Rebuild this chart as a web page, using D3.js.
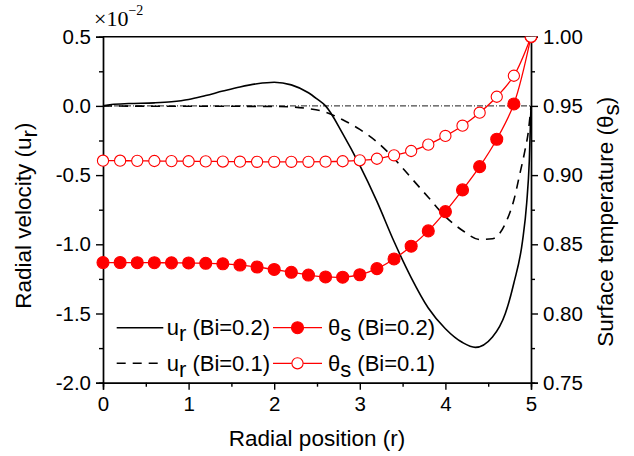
<!DOCTYPE html>
<html>
<head>
<meta charset="utf-8">
<script src="https://cdn.jsdelivr.net/npm/d3@7/dist/d3.min.js"></script>
<style>
  body { margin: 0; background: #fff; }
  svg text { font-family: "Liberation Sans", Arial, sans-serif; fill: #000; }
</style>
</head>
<body>
<svg id="chart" width="634" height="456"></svg>
<script>
// radial positions of the marker series (step 0.2)
const r_markers = [0, 0.2, 0.4, 0.6, 0.8, 1.0, 1.2, 1.4, 1.6, 1.8, 2.0, 2.2, 2.4,
  2.6, 2.8, 3.0, 3.2, 3.4, 3.6, 3.8, 4.0, 4.2, 4.4, 4.6, 4.8, 5.0];
const theta_bi02 = [0.8368, 0.8368, 0.8367, 0.8367, 0.8366, 0.8365, 0.8363, 0.8359, 0.8350,
  0.8336, 0.8318, 0.8298, 0.8278, 0.8264, 0.8262, 0.8280, 0.8324, 0.8394, 0.8486, 0.8597,
  0.8736, 0.8893, 0.9061, 0.9259, 0.9514, 1.0];
const theta_bi01 = [0.9104, 0.9104, 0.9103, 0.9102, 0.9101, 0.9100, 0.9099, 0.9098, 0.9097,
  0.9096, 0.9096, 0.9096, 0.9096, 0.9097, 0.9100, 0.9107, 0.9118, 0.9143, 0.9174, 0.9220,
  0.9283, 0.9357, 0.9451, 0.9566, 0.9718, 1.0];

// radial velocity (x1e-2)
const r_ur02 = [0, 0.1, 0.3, 0.6, 0.8, 1.0, 1.2, 1.4, 1.6, 1.8, 2.0, 2.2, 2.4, 2.5, 2.6, 2.8,
  3.0, 3.2, 3.4, 3.6, 3.8, 4.0, 4.2, 4.35, 4.55, 4.7, 4.8, 4.9, 4.95, 4.98, 5.0];
const ur_bi02 = [0, 0.010, 0.017, 0.022, 0.030, 0.046, 0.075, 0.107, 0.137, 0.160, 0.171,
  0.152, 0.095, 0.05, 0.0, -0.20, -0.43, -0.69, -0.98, -1.24, -1.46, -1.61, -1.71, -1.745,
  -1.67, -1.50, -1.28, -0.98, -0.70, -0.40, 0];
const r_ur01 = [0, 0.5, 1.0, 1.5, 2.0, 2.2, 2.4, 2.6, 2.8, 3.0, 3.2, 3.4, 3.6, 3.8, 4.0, 4.2,
  4.4, 4.55, 4.7, 4.8, 4.87, 4.93, 4.97, 5.0];
const ur_bi01 = [0, -0.002, -0.003, -0.003, -0.004, -0.007, -0.02, -0.045, -0.10, -0.17,
  -0.26, -0.38, -0.52, -0.66, -0.80, -0.90, -0.965, -0.96, -0.85, -0.68, -0.49, -0.32, -0.18, 0];

const x_ticks = [0, 1, 2, 3, 4, 5];
const x_minor = [0.5, 1.5, 2.5, 3.5, 4.5];
const yl_ticks = [0.5, 0.0, -0.5, -1.0, -1.5, -2.0];
const yl_minor = [0.25, -0.25, -0.75, -1.25, -1.75];
const yr_ticks = [0.75, 0.80, 0.85, 0.90, 0.95, 1.00];
const yr_minor = [0.775, 0.825, 0.875, 0.925, 0.975];

const svg = d3.select('#chart');
const plot_left = 103, plot_right = 531, plot_top = 36.7, plot_bottom = 382.7;

const x = d3.scaleLinear().domain([0, 5]).range([plot_left, plot_right]);
const yl = d3.scaleLinear().domain([-2, 0.5]).range([plot_bottom, plot_top]);
const yr = d3.scaleLinear().domain([0.75, 1.0]).range([plot_bottom, plot_top]);

svg.append('rect').attr('width', 634).attr('height', 456).attr('fill', '#fff');

// markers are cut off above the top frame only
svg.append('clipPath').attr('id', 'clip-top')
  .append('rect')
  .attr('x', 0).attr('y', plot_top).attr('width', 634).attr('height', 456 - plot_top);

// axes
function styleAxis(g) {
  g.selectAll('path').attr('stroke', '#000').attr('stroke-width', 1.4);
  g.selectAll('line').attr('stroke', '#000').attr('stroke-width', 1.4);
  g.selectAll('text').attr('font-size', 20.5).attr('font-family', '"Liberation Sans", Arial, sans-serif');
}

svg.append('g').attr('transform', `translate(0,${plot_bottom})`)
  .call(d3.axisBottom(x).tickValues(x_ticks).tickSize(7).tickPadding(7).tickFormat(d3.format('d')))
  .call(styleAxis);
svg.append('g').attr('transform', `translate(0,${plot_bottom})`)
  .call(d3.axisBottom(x).tickValues(x_minor).tickSize(4).tickFormat(''))
  .call(styleAxis);

svg.append('g').attr('transform', `translate(${plot_left},0)`)
  .call(d3.axisLeft(yl).tickValues(yl_ticks).tickSize(7).tickPadding(5).tickFormat(d => d3.format('.1f')(d).replace('−', '-')))
  .call(styleAxis);
svg.append('g').attr('transform', `translate(${plot_left},0)`)
  .call(d3.axisLeft(yl).tickValues(yl_minor).tickSize(4).tickFormat(''))
  .call(styleAxis);

svg.append('g').attr('transform', `translate(${plot_right},0)`)
  .call(d3.axisRight(yr).tickValues(yr_ticks).tickSize(7).tickPadding(5).tickFormat(d3.format('.2f')))
  .call(styleAxis);
svg.append('g').attr('transform', `translate(${plot_right},0)`)
  .call(d3.axisRight(yr).tickValues(yr_minor).tickSize(4).tickFormat(''))
  .call(styleAxis);

// top frame line
svg.append('line')
  .attr('x1', plot_left).attr('x2', plot_right).attr('y1', plot_top).attr('y2', plot_top)
  .attr('stroke', '#000').attr('stroke-width', 1.4);

// zero reference line
svg.append('line')
  .attr('x1', plot_left).attr('x2', plot_right).attr('y1', yl(0)).attr('y2', yl(0))
  .attr('stroke', '#000').attr('stroke-width', 0.9).attr('stroke-dasharray', '6,2,1,2');

// velocity curves
const ur_line = d3.line().curve(d3.curveMonotoneX).x(d => x(d[0])).y(d => yl(d[1]));
svg.append('path')
  .attr('d', ur_line(d3.zip(r_ur02, ur_bi02)))
  .attr('fill', 'none').attr('stroke', '#000').attr('stroke-width', 1.6);
svg.append('path')
  .attr('d', ur_line(d3.zip(r_ur01, ur_bi01)))
  .attr('fill', 'none').attr('stroke', '#000').attr('stroke-width', 1.6)
  .attr('stroke-dasharray', '9,7');

// surface temperature curves
const th_line = d3.line().curve(d3.curveCatmullRom).x(d => x(d[0])).y(d => yr(d[1]));
[[theta_bi02, true], [theta_bi01, false]].forEach(([vals, filled]) => {
  const pts = d3.zip(r_markers, vals);
  const g = svg.append('g').attr('clip-path', 'url(#clip-top)');
  g.append('path')
    .attr('d', th_line(pts))
    .attr('fill', 'none').attr('stroke', '#f00').attr('stroke-width', 1.3);
  g.selectAll('circle')
    .data(pts)
    .enter()
    .append('circle')
    .attr('cx', d => x(d[0]))
    .attr('cy', d => yr(d[1]))
    .attr('r', filled ? 6 : 5.6)
    .attr('fill', filled ? '#f00' : '#fff')
    .attr('stroke', '#f00')
    .attr('stroke-width', 1.1);
});

// scale factor
const mult = svg.append('text')
  .attr('x', 94).attr('y', 26)
  .style('font-family', '"Liberation Serif", "Times New Roman", serif')
  .attr('font-size', 22);
mult.append('tspan').text('×10');
mult.append('tspan').attr('dy', -11).attr('font-size', 14).text('−2');

// axis titles
svg.append('text')
  .attr('x', (plot_left + plot_right) / 2).attr('y', 446)
  .attr('text-anchor', 'middle').attr('font-size', 22.5)
  .text('Radial position (r)');

const ylt = svg.append('text')
  .attr('transform', `translate(31,${(plot_top + plot_bottom) / 2 + 6}) rotate(-90)`)
  .attr('text-anchor', 'middle').attr('font-size', 22.5);
ylt.append('tspan').text('Radial velocity (u');
ylt.append('tspan').attr('dy', 6).text('r');
ylt.append('tspan').attr('dy', -6).text(')');

const yrt = svg.append('text')
  .attr('transform', `translate(613,${(plot_top + plot_bottom) / 2 + 12}) rotate(-90)`)
  .attr('text-anchor', 'middle').attr('font-size', 22.5);
yrt.append('tspan').text('Surface temperature (θ');
yrt.append('tspan').attr('dy', 6).text('s');
yrt.append('tspan').attr('dy', -6).text(')');

// legend
const legend_items = [
  { sym: 'u', sub: 'r', label: ' (Bi=0.2)', col: 0, row: 0, dash: null, filled: null },
  { sym: 'u', sub: 'r', label: ' (Bi=0.1)', col: 0, row: 1, dash: '9,7', filled: null },
  { sym: 'θ', sub: 's', label: ' (Bi=0.2)', col: 1, row: 0, dash: null, filled: true },
  { sym: 'θ', sub: 's', label: ' (Bi=0.1)', col: 1, row: 1, dash: null, filled: false }
];
const leg = svg.append('g');
legend_items.forEach(d => {
  const ly = 327.7 + d.row * 35.6;
  const lx = d.col === 0 ? 116.7 : 273;
  const lw = d.col === 0 ? 46.6 : 49;
  const g = leg.append('g');
  g.append('line')
    .attr('x1', lx).attr('x2', lx + lw).attr('y1', ly).attr('y2', ly)
    .attr('stroke', d.filled === null ? '#000' : '#f00')
    .attr('stroke-width', d.filled === null ? 1.6 : 1.3)
    .attr('stroke-dasharray', d.dash);
  if (d.filled !== null) {
    g.append('circle')
      .attr('cx', lx + lw / 2).attr('cy', ly)
      .attr('r', d.filled ? 6 : 5.6)
      .attr('fill', d.filled ? '#f00' : '#fff')
      .attr('stroke', '#f00').attr('stroke-width', 1.1);
  }
  const t = g.append('text')
    .attr('x', d.col === 0 ? 166.7 : 328).attr('y', ly + 7.5)
    .attr('font-size', 22);
  t.append('tspan').text(d.sym);
  t.append('tspan').attr('dy', 6).text(d.sub);
  t.append('tspan').attr('dy', -6).text(d.label);
});
</script>
</body>
</html>
